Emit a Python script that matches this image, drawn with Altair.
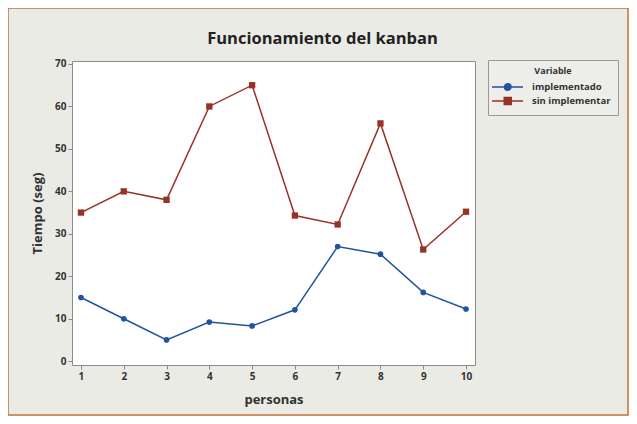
import altair as alt
import pandas as pd

# ---- data ----
personas = [1, 2, 3, 4, 5, 6, 7, 8, 9, 10]
implementado = [15, 10, 5, 9.2, 8.3, 12.1, 27, 25.2, 16.2, 12.3]
sin_implementar = [35, 40, 38, 60, 65, 34.3, 32.2, 56, 26.3, 35.2]
series = ["implementado", "sin implementar"]
y_ticks = [0, 10, 20, 30, 40, 50, 60, 70]

BLUE = "#22539f"
RED = "#983226"
FONT = "Open Sans"
TXT = "#333333"

rows = []
for p, a, b in zip(personas, implementado, sin_implementar):
    rows.append({"persona": p, "tiempo": a, "serie": series[0]})
    rows.append({"persona": p, "tiempo": b, "serie": series[1]})
df = pd.DataFrame(rows)

color_scale = alt.Scale(domain=series, range=[BLUE, RED])
# legend glyphs: a short line with the marker on it (unit coords, scaled by the symbol size)
legend_paths = [
    "M-1.8,0H4.4M2.0,0A0.65,0.65,0,1,1,0.7,0A0.65,0.65,0,1,1,2.0,0Z",
    "M-1.8,0H4.4M0.65,-0.7H2.05V0.7H0.65Z",
]

x_enc = alt.X(
    "persona:Q",
    scale=alt.Scale(domain=[0.79, 10.21], nice=False, zero=False),
    axis=alt.Axis(values=personas, title="personas", titlePadding=12),
)
y_enc = alt.Y(
    "tiempo:Q",
    scale=alt.Scale(domain=[-0.9, 70.7], nice=False, zero=False),
    axis=alt.Axis(values=y_ticks, title="Tiempo (seg)", titlePadding=10),
)

base = alt.Chart(df)
layers = []
for name, col, shp, sz in [(series[0], BLUE, "circle", 32), (series[1], RED, "square", 40)]:
    sub = base.transform_filter(alt.datum.serie == name)
    layers.append(sub.mark_line(strokeWidth=1.5, color=col).encode(x=x_enc, y=y_enc))
    layers.append(
        sub.mark_point(filled=True, shape=shp, size=sz, opacity=1, color=col).encode(x=x_enc, y=y_enc)
    )

leg = alt.Legend(
    title="Variable",
    orient="none",
    legendX=416,
    legendY=-1,
    titleAnchor="middle",
    titleFont=FONT,
    titleFontSize=9,
    titleFontWeight="bold",
    titleColor=TXT,
    titlePadding=5,
    labelFont=FONT,
    labelFontSize=9.5,
    labelFontWeight="bold",
    labelColor=TXT,
    labelOffset=25,
    labelExpr="datum.label + '   '",
    symbolSize=100,
    symbolStrokeWidth=1.5,
    symbolOpacity=1,
    padding=7,
    rowPadding=0,
    strokeColor="#9a9a9a",
    fillColor="#ededea",
)

legend_layer = base.mark_point(filled=True, opacity=0, size=1).encode(
    x=x_enc, y=y_enc,
    fill=alt.Fill("serie:N", scale=color_scale, legend=leg),
    stroke=alt.Stroke("serie:N", scale=color_scale, legend=leg),
    shape=alt.Shape("serie:N", scale=alt.Scale(domain=series, range=legend_paths), legend=leg),
)

frame = alt.Chart(alt.Data(values=[{"k": 1}])).mark_rect(
    fillOpacity=0, stroke="#c8733a", strokeWidth=1.5, clip=False
).encode(
    x=alt.value(-64), x2=alt.value(403 + 154 - 1),
    y=alt.value(-53), y2=alt.value(304 + 51 - 1),
)

chart = alt.layer(frame, *layers, legend_layer).properties(
    width=403,
    height=304,
    autosize=alt.AutoSizeParams(type="none"),
    padding={"left": 64, "top": 53, "right": 154, "bottom": 51},
    background="#ebebe6",
    title=alt.TitleParams(
        "Funcionamiento del kanban",
        font=FONT, fontSize=16.5, fontWeight="bold", color="#222222",
        anchor="middle", dx=49, offset=-40,
    ),
).configure_view(
    fill="white", stroke="#8c8c8c", strokeWidth=1
).configure_axis(
    domain=False,
    grid=False,
    tickColor="#8c8c8c",
    tickSize=4,
    labelFont=FONT,
    labelFontSize=10,
    labelFontWeight="bold",
    labelColor=TXT,
    labelPadding=2,
    titleFont=FONT,
    titleFontSize=13,
    titleFontWeight="bold",
    titleColor=TXT,
)

chart.save("out.html", embed_options={"renderer": "svg", "actions": False})
